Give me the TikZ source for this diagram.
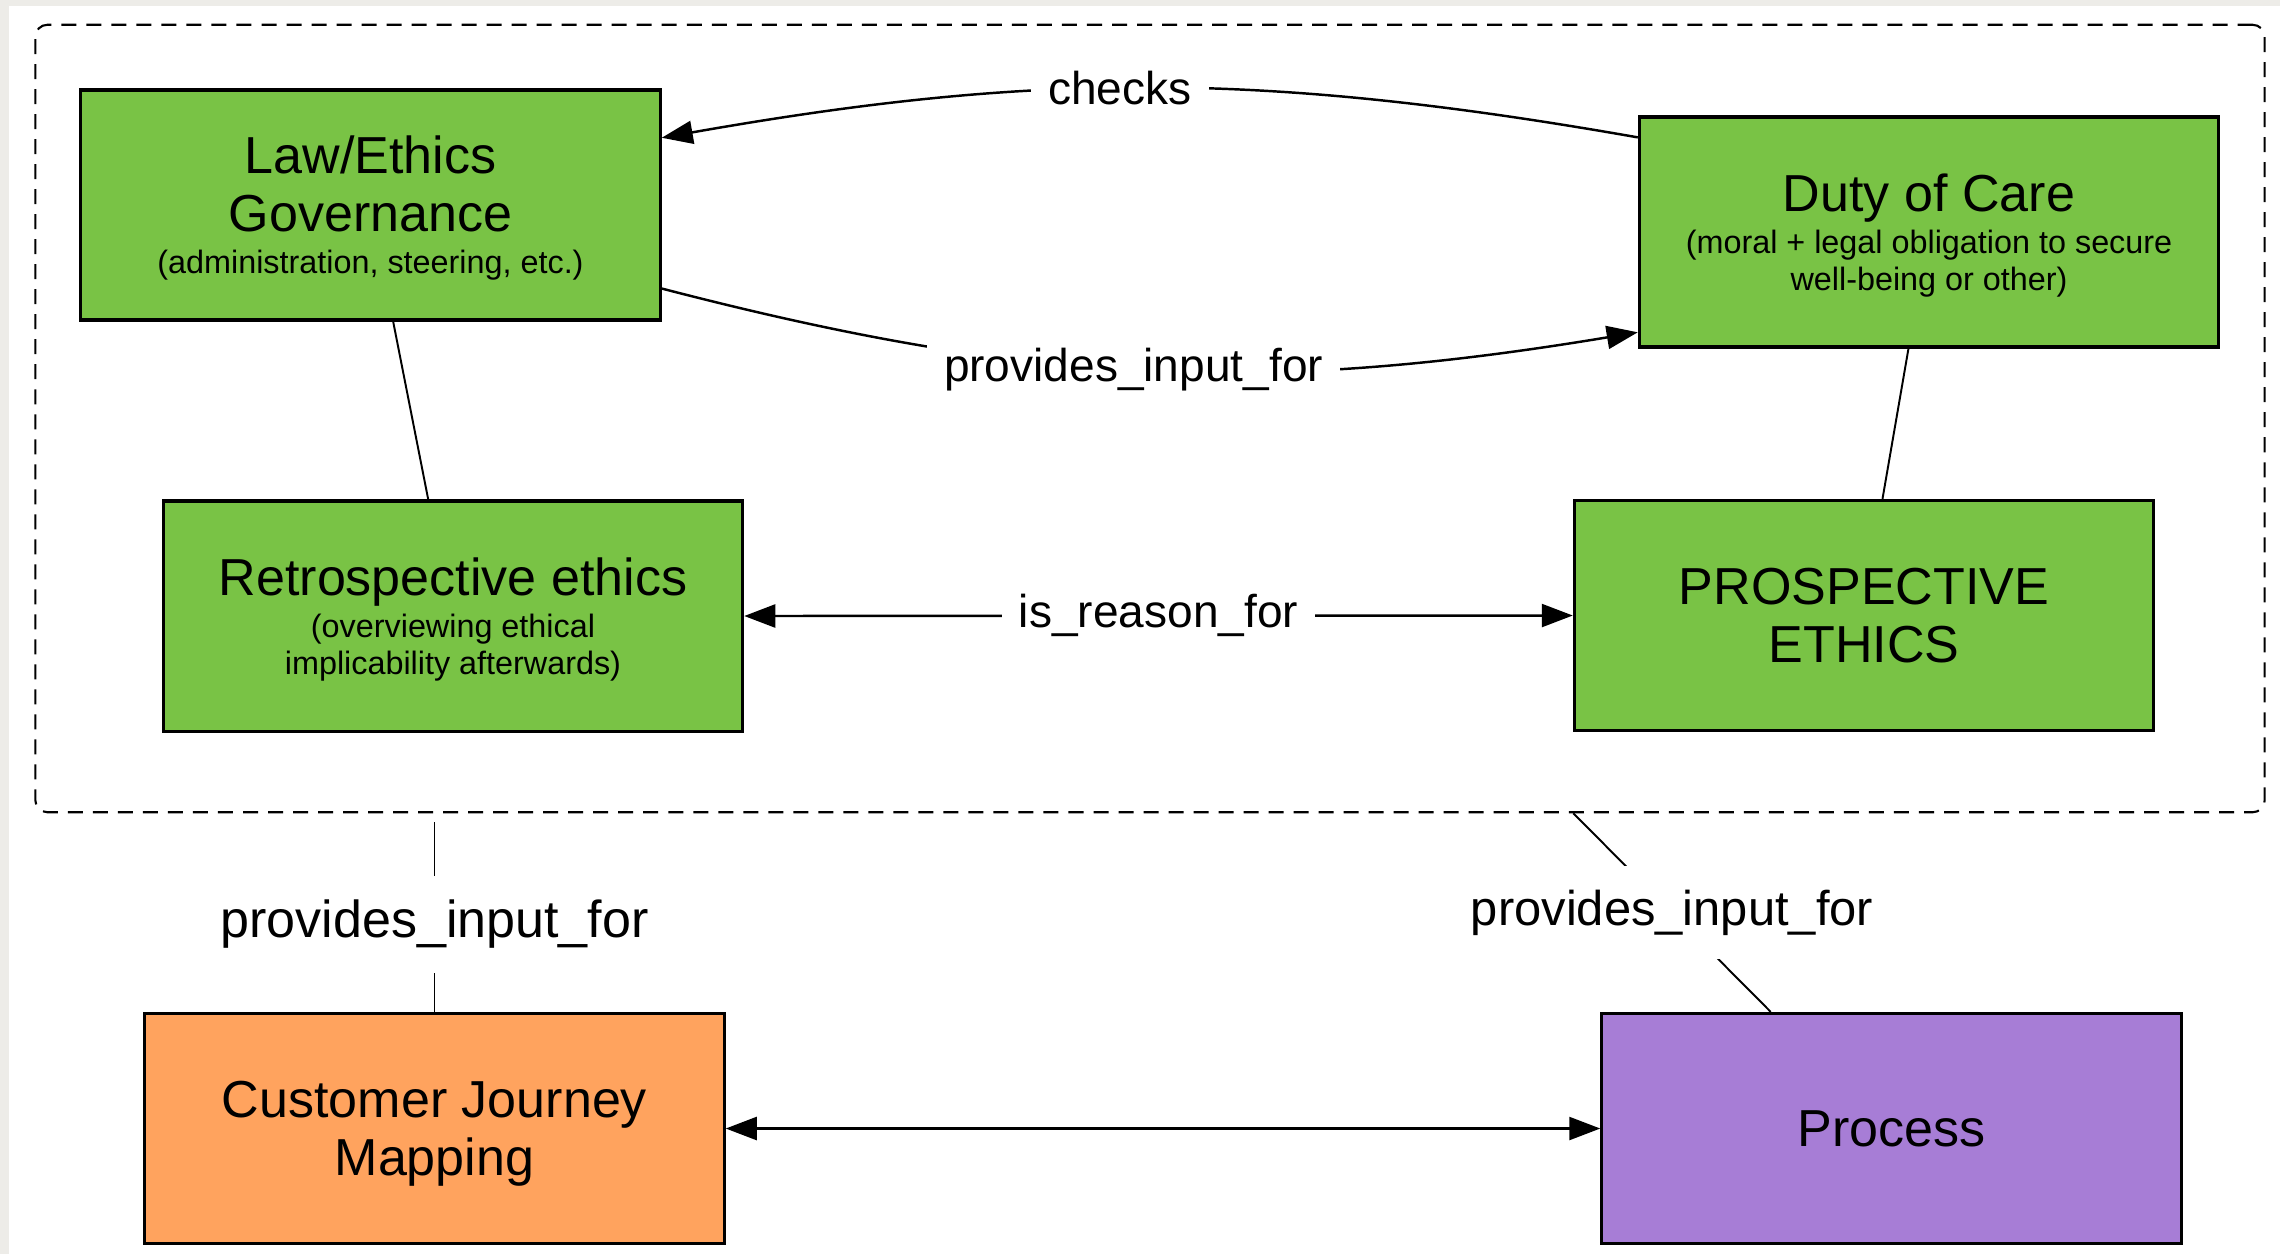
\documentclass[tikz,border=0pt]{standalone}
\usepackage{fontspec}
\setmainfont{Liberation Sans}
\usetikzlibrary{arrows.meta}
\definecolor{bggray}{RGB}{237,236,232}
\definecolor{boxgreen}{RGB}{121,195,69}
\definecolor{boxorange}{RGB}{255,163,94}
\definecolor{boxpurple}{RGB}{167,125,214}

\newcommand{\subline}{\fontsize{9.2}{10.5}\selectfont}

\begin{document}
\begin{tikzpicture}[x=0.01cm,y=0.01cm,
		>={Triangle[length=0.31cm,width=0.23cm]},
		box/.style={draw=black,line width=0.9pt,minimum width=5.79cm,minimum height=2.3cm,inner sep=0pt,text depth=0pt,align=center,font=\fontsize{14.8}{16.5}\selectfont},
		ethicsframe/.style={draw=black,line width=0.6pt,dash pattern=on 0.15cm off 0.1cm,rounded corners=0.12cm,minimum width=22.28cm,minimum height=7.87cm},
		lbl/.style={fill=white,inner xsep=0.17cm,inner ysep=0.24cm,font=\fontsize{13.1}{15}\selectfont},
		link/.style={color=black,line width=0.7pt},
		rel/.style={color=black,line width=0.55pt}]
			\fill[color=bggray] (0,0) rectangle (2280,-1254);
			\fill[color=white] (9,-6) rectangle (2280,-1254);
			\useasboundingbox (0,0) rectangle (2280,-1254);
			\node[ethicsframe] (ethics) at (1150,-418.5) {};
			\node[box,fill=boxgreen] (law) at (370.5,-205) {Law/Ethics\\Governance\\[-4.5pt]{\subline (administration, steering, etc.)}};
			\node[box,fill=boxgreen] (duty) at (1929,-232) {Duty of Care\\[-4.5pt]{\subline (moral + legal obligation to secure}\\[-6pt]{\subline well-being or other)}};
			\node[box,fill=boxgreen] (retro) at (453,-616) {Retrospective ethics\\[-4.5pt]{\subline (overviewing ethical}\\[-6pt]{\subline implicability afterwards)}};
			\node[box,fill=boxgreen] (prosp) at (1864,-615.5) {PROSPECTIVE\\ETHICS};
			\node[box,fill=boxorange] (cjm) at (434.5,-1128.5) {Customer Journey\\Mapping};
			\node[box,fill=boxpurple] (process) at (1891.5,-1128.5) {Process};
			\draw[link,->] (duty.162) to[bend right=10] node[lbl,pos=0.533] {checks} (law.13.5);
			\draw[link,->] (law.-16.5) to[bend right=12] node[lbl,pos=0.485] {provides\_input\_for} (duty.199);
			\draw[rel] (law.-79) -- (retro.102);
			\draw[rel] (duty.-100) -- (prosp.81);
			\draw[link,<->] (retro.east) -- node[lbl] {is\_reason\_for} (prosp.west);
			\draw[rel,shorten <=0.09cm] (ethics.south -| cjm.north) -- node[lbl,pos=0.56,font=\fontsize{14.8}{17}\selectfont] {provides\_input\_for} (cjm.north);
			\draw[rel] (ethics.-43.7) -- node[lbl,font=\fontsize{13.9}{16}\selectfont] {provides\_input\_for} (process.136.5);
			\draw[link,<->] (cjm.east) -- (process.west);
		\end{tikzpicture}
\end{document}
